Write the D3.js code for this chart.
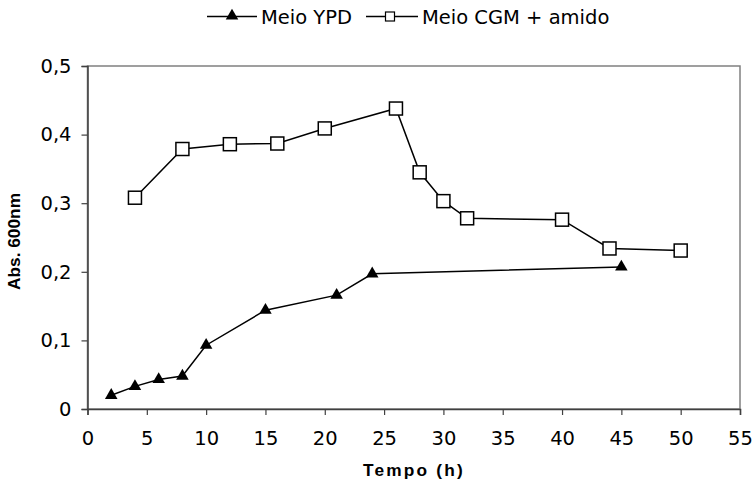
<html lang="pt">
<head>
    <meta charset="UTF-8"/>
    <title>Abs. 600nm</title>
    <script src="https://d3js.org/d3.v7.min.js"></script>
    <style>
        body { margin: 0; background: #fff; }
        text { font-family: "DejaVu Sans", Verdana, sans-serif; }
    </style>
</head>
<body>
    <script>
        // valores
        var ypdTempo = [2, 4, 6, 8, 10, 15, 21, 24, 45];
        var ypdAbs = [0.020, 0.033, 0.043, 0.048, 0.093, 0.144, 0.166, 0.197, 0.207];
        var cgmTempo = [4, 8, 12, 16, 20, 26, 28, 30, 32, 40, 44, 50];
        var cgmAbs = [0.308, 0.379, 0.386, 0.387, 0.409, 0.438, 0.345, 0.303, 0.278, 0.276, 0.234, 0.231];
        var xTicks = [0, 5, 10, 15, 20, 25, 30, 35, 40, 45, 50, 55];
        var yTicks = [0, 0.1, 0.2, 0.3, 0.4, 0.5];

        var w = 754;
        var h = 482;
        var padL = 87.5, padR = 740, padT = 66, padB = 409;

        var svg = d3.select("body")
                    .append("svg")
                    .attr("width", w)
                    .attr("height", h);

        var xScale = d3.scaleLinear()
                        .domain([0, 55])
                        .range([padL, padR]);

        var yScale = d3.scaleLinear()
                        .domain([0, 0.5])
                        .range([padB, padT]);

        // moldura
        svg.append("rect")
            .attr("x", padL)
            .attr("y", padT)
            .attr("width", padR - padL)
            .attr("height", padB - padT)
            .attr("fill", "none")
            .attr("stroke", "#808080")
            .attr("stroke-width", 1.5);

        svg.append("g")
            .attr("transform", "translate(0," + padB + ")")
            .call(d3.axisBottom(xScale).tickValues(xTicks).tickSize(6).tickPadding(16)
                .tickFormat(function(d) { return d; }));

        svg.append("g")
            .attr("transform", "translate(" + padL + ",0)")
            .call(d3.axisLeft(yScale).tickValues(yTicks).tickSize(6).tickPadding(10)
                .tickFormat(function(d) { return d === 0 ? "0" : d3.format(".1f")(d).replace(".", ","); }));

        svg.selectAll(".domain").attr("stroke", "#404040").attr("stroke-width", 1.5);
        svg.selectAll(".tick line").attr("stroke", "#404040").attr("stroke-width", 1.2);
        svg.selectAll(".tick text")
            .attr("fill", "#000")
            .style("font-family", "'DejaVu Sans', Verdana, sans-serif")
            .style("font-size", "19.5px");

        // titulos dos eixos
        svg.append("text")
            .attr("x", 414)
            .attr("y", 476)
            .attr("text-anchor", "middle")
            .style("font-family", "'Liberation Sans', Arial, sans-serif")
            .style("font-size", "17.3px")
            .style("font-weight", "bold")
            .style("letter-spacing", "2.2px")
            .text("Tempo (h)");

        svg.append("text")
            .attr("transform", "translate(20,241.5) rotate(-90)")
            .attr("text-anchor", "middle")
            .style("font-family", "'Liberation Sans', Arial, sans-serif")
            .style("font-size", "17.3px")
            .style("font-weight", "bold")
            .text("Abs. 600nm");

        var line = d3.line()
            .x(function(d) { return xScale(d[0]); })
            .y(function(d) { return yScale(d[1]); });

        var ypd = d3.zip(ypdTempo, ypdAbs);
        var cgm = d3.zip(cgmTempo, cgmAbs);

        svg.append("path")
            .datum(ypd)
            .attr("d", line)
            .attr("fill", "none")
            .attr("stroke", "#000")
            .attr("stroke-width", 1.5);

        svg.append("path")
            .datum(cgm)
            .attr("d", line)
            .attr("fill", "none")
            .attr("stroke", "#000")
            .attr("stroke-width", 1.5);

        var tri = d3.symbol().type(d3.symbolTriangle).size(68);

        svg.selectAll(".tri")
            .data(ypd)
            .enter()
            .append("path")
            .attr("class", "tri")
            .attr("d", tri)
            .attr("transform", function(d) {
                return "translate(" + xScale(d[0]) + "," + yScale(d[1]) + ")";
            })
            .attr("fill", "#000");

        var sq = 13;
        svg.selectAll(".sq")
            .data(cgm)
            .enter()
            .append("rect")
            .attr("class", "sq")
            .attr("x", function(d) { return xScale(d[0]) - sq / 2; })
            .attr("y", function(d) { return yScale(d[1]) - sq / 2; })
            .attr("width", sq)
            .attr("height", sq)
            .attr("fill", "#fff")
            .attr("stroke", "#000")
            .attr("stroke-width", 1.5);

        // legenda
        var leg = svg.append("g");
        leg.append("line").attr("x1", 207).attr("x2", 257).attr("y1", 16.5).attr("y2", 16.5)
            .attr("stroke", "#000").attr("stroke-width", 1.5);
        leg.append("path").attr("d", tri).attr("transform", "translate(232,16)");
        leg.append("text").attr("x", 261).attr("y", 24).style("font-size", "19.5px").text("Meio YPD");

        leg.append("line").attr("x1", 366).attr("x2", 418).attr("y1", 16.5).attr("y2", 16.5)
            .attr("stroke", "#000").attr("stroke-width", 1.5);
        leg.append("rect").attr("x", 385.5).attr("y", 12).attr("width", 9).attr("height", 9)
            .attr("fill", "#fff").attr("stroke", "#000").attr("stroke-width", 1.2);
        leg.append("text").attr("x", 422).attr("y", 24).style("font-size", "19.5px").text("Meio CGM + amido");
    </script>
</body>
</html>
